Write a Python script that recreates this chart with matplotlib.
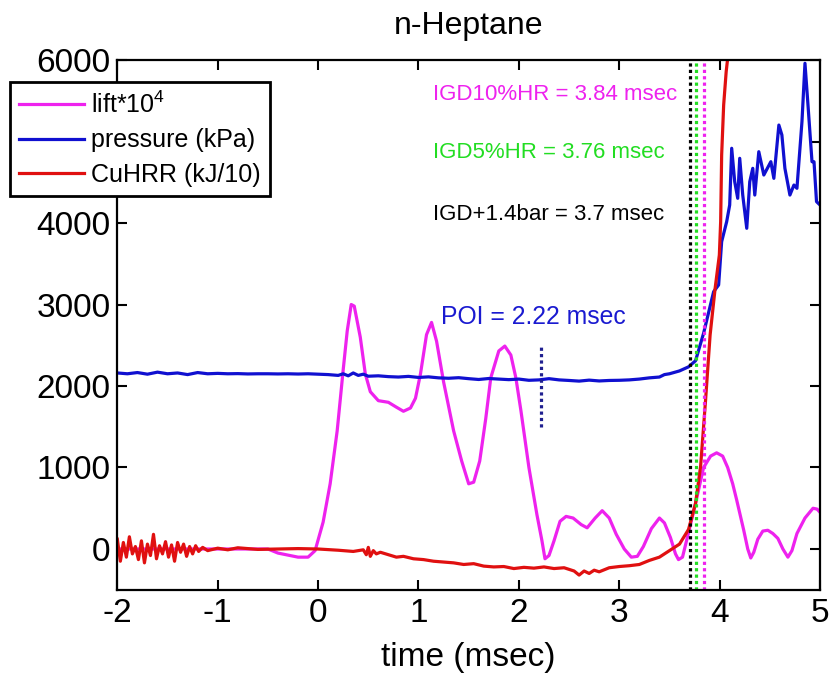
import matplotlib
matplotlib.use('Agg')
import matplotlib.pyplot as plt
import numpy as np

plt.rcParams['font.family'] = ['Liberation Sans', 'DejaVu Sans']
plt.rcParams['mathtext.fontset'] = 'custom'
plt.rcParams['mathtext.rm'] = 'Liberation Sans'
plt.rcParams['mathtext.it'] = 'Liberation Sans'
plt.rcParams['axes.unicode_minus'] = False

# lift*10^4
lift_t = [-2.0, -1.0, -0.5, -0.4, -0.2, -0.1, -0.03, 0.05, 0.12, 0.19, 0.25, 0.29,
          0.33, 0.36, 0.42, 0.47, 0.52, 0.6, 0.7, 0.78, 0.85, 0.92, 0.97, 1.02,
          1.08, 1.13, 1.18, 1.25, 1.35, 1.43, 1.5, 1.55, 1.61, 1.67, 1.72, 1.8,
          1.86, 1.92, 1.97, 2.02, 2.1, 2.18, 2.23, 2.26, 2.3, 2.35, 2.41, 2.47,
          2.54, 2.62, 2.68, 2.76, 2.83, 2.9, 2.97, 3.05, 3.12, 3.18, 3.24, 3.32,
          3.4, 3.45, 3.51, 3.56, 3.59, 3.63, 3.68, 3.76, 3.84, 3.91, 3.97, 4.03,
          4.08, 4.13, 4.17, 4.24, 4.28, 4.31, 4.34, 4.38, 4.43, 4.48, 4.53, 4.58,
          4.63, 4.68, 4.72, 4.77, 4.85, 4.93, 4.97, 5.0]
lift_v = [0, 0, 0, -50, -100, -100, -20, 330, 800, 1450, 2200, 2675,
          3000, 2980, 2600, 2150, 1930, 1820, 1800, 1740, 1690, 1730, 1850, 2150,
          2630, 2780, 2550, 2050, 1450, 1080, 800, 820, 1080, 1600, 2100, 2430,
          2490, 2380, 2100, 1700, 1000, 420, 100, -120, -80, 100, 340, 400,
          380, 300, 260, 380, 470, 380, 180, 0, -100, -90, 30, 250,
          380, 320, 140, -60, -130, -100, 150, 560, 1000, 1140, 1180, 1140,
          1000, 800, 600, 230, 0, -110, -40, 120, 220, 230, 190, 130,
          0, -100, -20, 190, 380, 500, 490, 450]

# pressure (kPa)
pres_t = [-2.0, -1.9, -1.8, -1.7, -1.6, -1.5, -1.4, -1.3, -1.2, -1.1, -1.0, -0.9,
          -0.8, -0.7, -0.6, -0.5, -0.4, -0.3, -0.2, -0.1, 0.0, 0.1, 0.2, 0.25,
          0.3, 0.35, 0.4, 0.45, 0.5, 0.6, 0.7, 0.8, 0.9, 1.0, 1.1, 1.2,
          1.3, 1.4, 1.5, 1.6, 1.7, 1.8, 1.9, 2.0, 2.1, 2.2, 2.3, 2.4,
          2.5, 2.6, 2.7, 2.8, 2.9, 3.0, 3.1, 3.2, 3.3, 3.4, 3.45, 3.5,
          3.6, 3.69, 3.76, 3.84, 3.94, 3.99, 4.02, 4.07, 4.10, 4.12, 4.15, 4.18,
          4.20, 4.23, 4.27, 4.30, 4.33, 4.35, 4.39, 4.44, 4.51, 4.54, 4.59, 4.62,
          4.65, 4.70, 4.74, 4.77, 4.82, 4.85, 4.88, 4.92, 4.94, 4.965, 5.0]
pres_v = [2160, 2150, 2165, 2145, 2170, 2150, 2160, 2140, 2165, 2150, 2155, 2150,
          2152, 2148, 2150, 2150, 2148, 2150, 2147, 2150, 2145, 2140, 2130, 2150,
          2125, 2160, 2130, 2145, 2120, 2125, 2115, 2110, 2118, 2105, 2112, 2100,
          2095, 2102, 2090, 2080, 2092, 2085, 2078, 2085, 2070, 2075, 2090, 2075,
          2068, 2060, 2072, 2062, 2068, 2070, 2075, 2085, 2100, 2110, 2140, 2150,
          2185, 2235, 2310, 2647, 3157, 3240, 3771, 4016, 4221, 4917, 4507, 4303,
          4794, 4343, 3935, 4507, 4671, 4343, 4875, 4589, 4752, 4548, 5202, 5080,
          4671, 4343, 4466, 4426, 5243, 5960, 5448, 4752, 4752, 4262, 4221]

# CuHRR (kJ/10)
hrr_t = [-2.0, -1.97, -1.94, -1.91, -1.88, -1.85, -1.82, -1.79, -1.76, -1.73, -1.70,
         -1.67, -1.64, -1.61, -1.58, -1.55, -1.52, -1.49, -1.46, -1.43, -1.40, -1.37,
         -1.34, -1.31, -1.28, -1.25, -1.22, -1.19, -1.15, -1.1, -1.0, -0.9, -0.8,
         -0.6, -0.4, -0.2, 0.0, 0.2, 0.35, 0.45, 0.48, 0.5, 0.52, 0.55, 0.58,
         0.62, 0.7, 0.78, 0.85, 0.95, 1.05, 1.15, 1.25, 1.35, 1.45, 1.55, 1.65,
         1.75, 1.85, 1.95, 2.05, 2.15, 2.25, 2.35, 2.45, 2.55, 2.6, 2.65, 2.7,
         2.75, 2.8, 2.9, 3.0, 3.1, 3.2, 3.3, 3.4, 3.5, 3.6, 3.69, 3.76,
         3.81, 3.86, 3.905, 3.955, 3.997, 4.01, 4.02, 4.04, 4.065, 4.08, 4.1]
hrr_v = [120, -150, 80, -100, 150, -60, 30, -130, 100, -170, 60,
         -80, 180, -120, 40, -60, 90, -100, 50, -150, 80, -40,
         60, -90, 30, -60, 40, -30, 20, -20, 10, -10, 15,
         -5, 0, 5, 0, -15, -30, -10, -70, 20, -90, -20, -60,
         -40, -70, -100, -90, -120, -130, -150, -160, -170, -190, -180, -210,
         -220, -215, -240, -225, -235, -220, -240, -230, -270, -320, -270, -300,
         -260, -280, -230, -215, -205, -190, -140, -100, -20, 60, 240, 560,
         1010, 1830, 2626, 3199, 3607, 4016, 4834, 5448, 5856, 6020, 6400]

# marker times and labels
igd_times = [3.7, 3.76, 3.84]
igd_colors = ['black', '#22dd22', '#ee22ee']
igd_labels = ['IGD+1.4bar = 3.7 msec', 'IGD5%HR = 3.76 msec', 'IGD10%HR = 3.84 msec']
igd_label_y = [4110, 4859, 5571]
poi_time = 2.22

x_ticks = [-2, -1, 0, 1, 2, 3, 4, 5]
y_ticks = [0, 1000, 2000, 3000, 4000, 5000, 6000]
# the 5000 label sits behind the legend in the original
y_ticklabels = ['0', '1000', '2000', '3000', '4000', '', '6000']

fig = plt.figure(figsize=(8.31, 6.75), dpi=100)
ax = fig.add_axes([0.1412, 0.1263, 0.8456, 0.7848])

ax.plot(lift_t, lift_v, color='#ee22ee', lw=2.3, label='lift*10$^4$')
ax.plot(pres_t, pres_v, color='#1010d0', lw=2.3, label='pressure (kPa)')
ax.plot(hrr_t, hrr_v, color='#e01010', lw=2.3, label='CuHRR (kJ/10)')

for t, c in zip(igd_times, igd_colors):
    ax.axvline(t, color=c, lw=2.3, linestyle=(0, (1, 1)))
ax.plot([poi_time, poi_time], [1500, 2500], color='#202090', lw=2.3,
        linestyle=(0, (1, 1)))

for lab, c, yy in zip(igd_labels, igd_colors, igd_label_y):
    ax.text(1.145, yy, lab, color=c, fontsize=16, va='center', ha='left')
ax.text(1.225, 2847, 'POI = 2.22 msec', color='#1a1ad0', fontsize=17.8,
        va='center', ha='left')

ax.set_xlim(-2, 5)
ax.set_ylim(-500, 6000)
ax.set_xticks(x_ticks)
ax.set_yticks(y_ticks)
ax.set_yticklabels(y_ticklabels)
ax.tick_params(direction='in', top=True, right=True, length=7, width=1.5,
               labelsize=24, pad=5)
ax.tick_params(axis='x', pad=6)
for s in ax.spines.values():
    s.set_linewidth(1.6)

ax.set_xlabel('time (msec)', fontsize=24, labelpad=9)
ax.set_title('n-Heptane', fontsize=23, pad=19)

leg = ax.legend(loc='upper left', bbox_to_anchor=(0.012, 0.8785),
                bbox_transform=fig.transFigure, borderaxespad=0,
                fontsize=18, fancybox=False, framealpha=1, edgecolor='black',
                handlelength=2.6, handletextpad=0.25, labelspacing=0.42,
                borderpad=0.38)
leg.get_frame().set_linewidth(2)

fig.savefig('out.png', dpi=100)
